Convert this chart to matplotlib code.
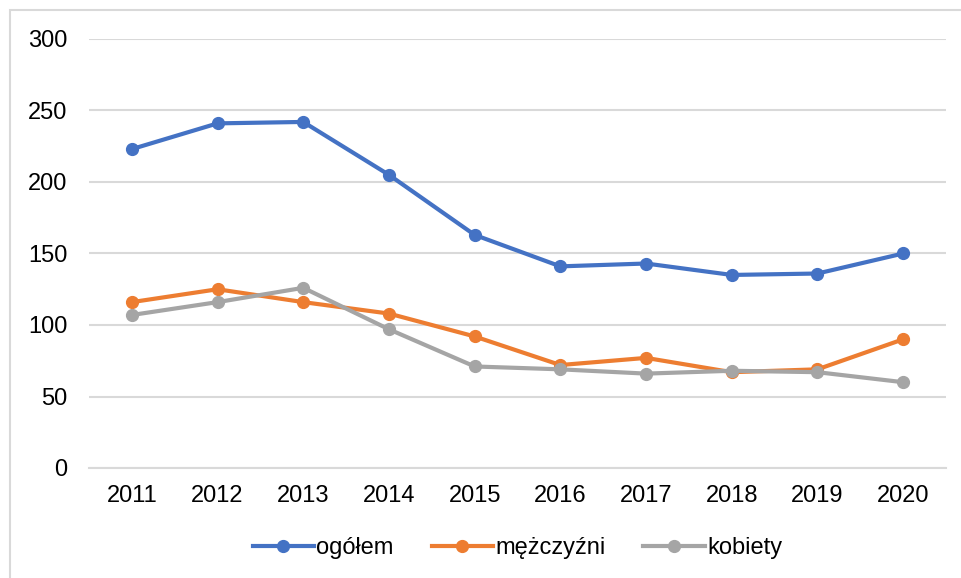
import matplotlib
matplotlib.use("Agg")
import matplotlib.pyplot as plt
from matplotlib.patches import Rectangle

plt.rcParams['font.family'] = ['Liberation Sans', 'DejaVu Sans']

years = [2011, 2012, 2013, 2014, 2015, 2016, 2017, 2018, 2019, 2020]
ogolem = [223, 241, 242, 205, 163, 141, 143, 135, 136, 150]
mezczyzni = [116, 125, 116, 108, 92, 72, 77, 67, 69, 90]
kobiety = [107, 116, 126, 97, 71, 69, 66, 68, 67, 60]
yticks = [0, 50, 100, 150, 200, 250, 300]

W, H = 962, 578
fig = plt.figure(figsize=(W / 100, H / 100), dpi=100)
fig.patches.append(Rectangle((10 / W, -0.1), 1.2, 1 - 10 / H + 0.1, transform=fig.transFigure,
                             fill=False, edgecolor='#D9D9D9', linewidth=1.5, zorder=0))

ax = fig.add_axes([89 / W, 1 - 468 / H, (946 - 89) / W, (468 - 39) / H])
x = list(range(len(years)))
series = [(ogolem, '#4472C4', 'ogółem'), (mezczyzni, '#ED7D31', 'mężczyźni'), (kobiety, '#A5A5A5', 'kobiety')]
for vals, col, lab in series:
    ax.plot(x, vals, color=col, linewidth=3, marker='o', markersize=8.5, label=lab, zorder=3)

ax.set_xlim(-0.5, len(years) - 0.5)
ax.set_ylim(0, 300)
ax.set_yticks(yticks)
ax.set_xticks(x)
ax.set_xticklabels([str(y) for y in years])
ax.yaxis.grid(True, color='#D9D9D9', linewidth=1.5)
ax.set_axisbelow(True)
for s in ['top', 'right', 'left']:
    ax.spines[s].set_visible(False)
ax.spines['bottom'].set_color('#D9D9D9')
ax.spines['bottom'].set_linewidth(1.5)
ax.tick_params(axis='both', length=0, labelsize=17, colors='black')
ax.tick_params(axis='y', pad=15.5)
ax.tick_params(axis='x', pad=12)

ax.legend(loc='center', bbox_to_anchor=(0.5, (548 - 468) / -(468 - 39)), ncol=3, frameon=False,
          fontsize=17, handlelength=2.6, handletextpad=0.1, columnspacing=1.6)

fig.savefig('out.png', dpi=100)
